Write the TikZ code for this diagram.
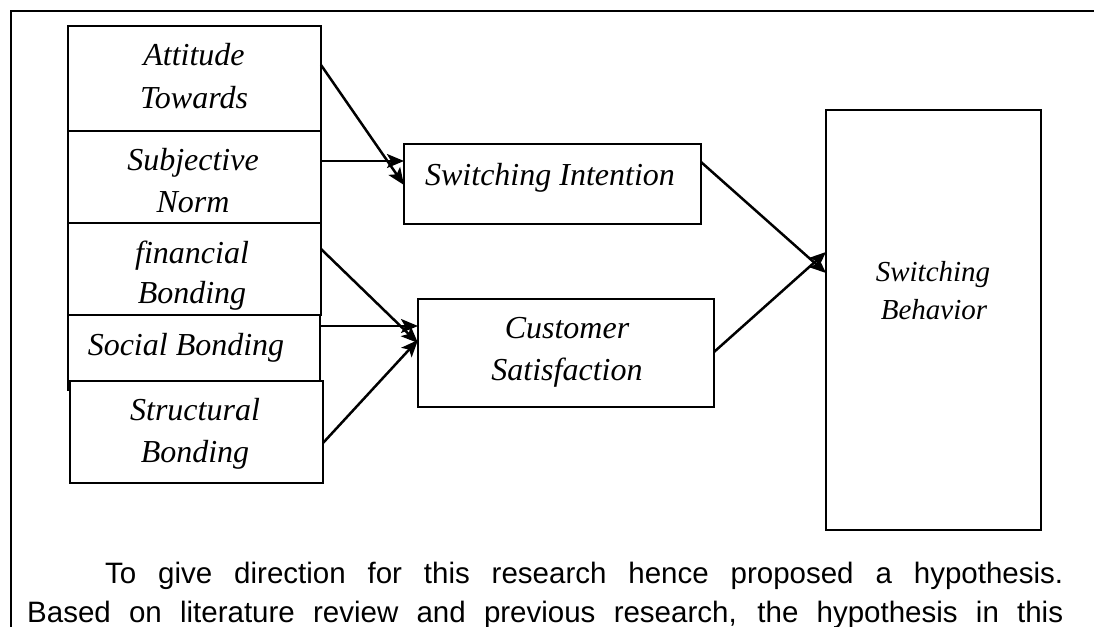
\documentclass[tikz,border=0pt]{standalone}
\usepackage{fontspec}
\setmainfont{Liberation Serif}
\newfontfamily\parafont{Liberation Sans}
\usetikzlibrary{arrows.meta,calc}
\begin{document}
\begin{tikzpicture}[x=1pt,y=-1pt,
  box/.style={draw,line width=2.3pt,rectangle,inner sep=0pt,outer sep=0pt,anchor=north west},
  lbl/.style={inner sep=0pt,anchor=base,font=\fontsize{32}{42}\selectfont\itshape},
  lblsmall/.style={inner sep=0pt,anchor=base,font=\fontsize{29}{38}\selectfont\itshape},
  para/.style={inner sep=0pt,anchor=base west,font=\fontsize{29.5}{39}\parafont},
  arr/.style={line width=2.5pt,-{Stealth[length=17pt,width=14pt,inset=4pt]}},
  frame/.style={line width=2.3pt}]
\useasboundingbox (0,0) rectangle (1094,626);
% outer frame
\draw[frame] (1096,11) -- (11,11) -- (11,628);
% left boxes
\node[box,minimum width=253pt,minimum height=105pt] (att) at (68,26) {};
\node[box,minimum width=253pt,minimum height=92pt] (subj) at (68,131) {};
\node[box,minimum width=253pt,minimum height=92pt] (fin) at (68,223) {};
\node[box,minimum width=252pt,minimum height=66pt] (soc) at (68,315) {};
\draw[line width=2.3pt] (soc.south west) -- ++(0,10);
\node[box,minimum width=253pt,minimum height=102pt] (str) at (70,381) {};
% middle boxes
\node[box,minimum width=297pt,minimum height=80pt] (si) at (404,144) {};
\node[box,minimum width=296pt,minimum height=108pt] (cs) at (418,299) {};
% right box
\node[box,minimum width=215pt,minimum height=420pt] (sb) at (826,110) {};
% labels
\node[lbl] (attA) at (194,65) {Attitude};
\node[lbl] (attB) at (194,108) {Towards};
\node[lbl] (subjA) at (193,170) {Subjective};
\node[lbl] (subjB) at (193,212) {Norm};
\node[lbl] (finA) at (192,263) {financial};
\node[lbl] (finB) at (192,303) {Bonding};
\node[lbl] (socA) at (186,355) {Social Bonding};
\node[lbl] (strA) at (195,420) {Structural};
\node[lbl] (strB) at (195,462) {Bonding};
\node[lbl] (siA) at (550,185) {Switching Intention};
\node[lbl] (csA) at (567,338) {Customer};
\node[lbl] (csB) at (567,380) {Satisfaction};
\node[lblsmall] (sbA) at (933,281) {Switching};
\node[lblsmall] (sbB) at (934,319) {Behavior};
% arrows
\draw[arr] ($(att.north east)+(0,39)$) -- ($(si.north west)+(0,41)$);
\draw[arr] ($(subj.north east)+(0,30)$) -- ($(si.north west)+(0,17)$);
\draw[arr] ($(fin.north east)+(0,26)$) -- ($(cs.north west)+(0,44)$);
\draw[arr] ($(soc.north east)+(0,11)$) -- ($(cs.north west)+(0,27)$);
\draw[arr] ($(str.north east)+(0,62)$) -- ($(cs.north west)+(0,41)$);
\draw[arr] ($(si.north east)+(0,18)$) -- ($(sb.north west)+(0,163)$);
\draw[arr] ($(cs.north east)+(0,53)$) -- ($(sb.north west)+(0,142)$);
% paragraph
\node[para] (p1) at (105,583) {\makebox[958pt][s]{To give direction for this research hence proposed a hypothesis.}};
\node[para] (p2) at (27,622) {\makebox[1036pt][s]{Based on literature review and previous research, the hypothesis in this}};
\end{tikzpicture}
\end{document}
